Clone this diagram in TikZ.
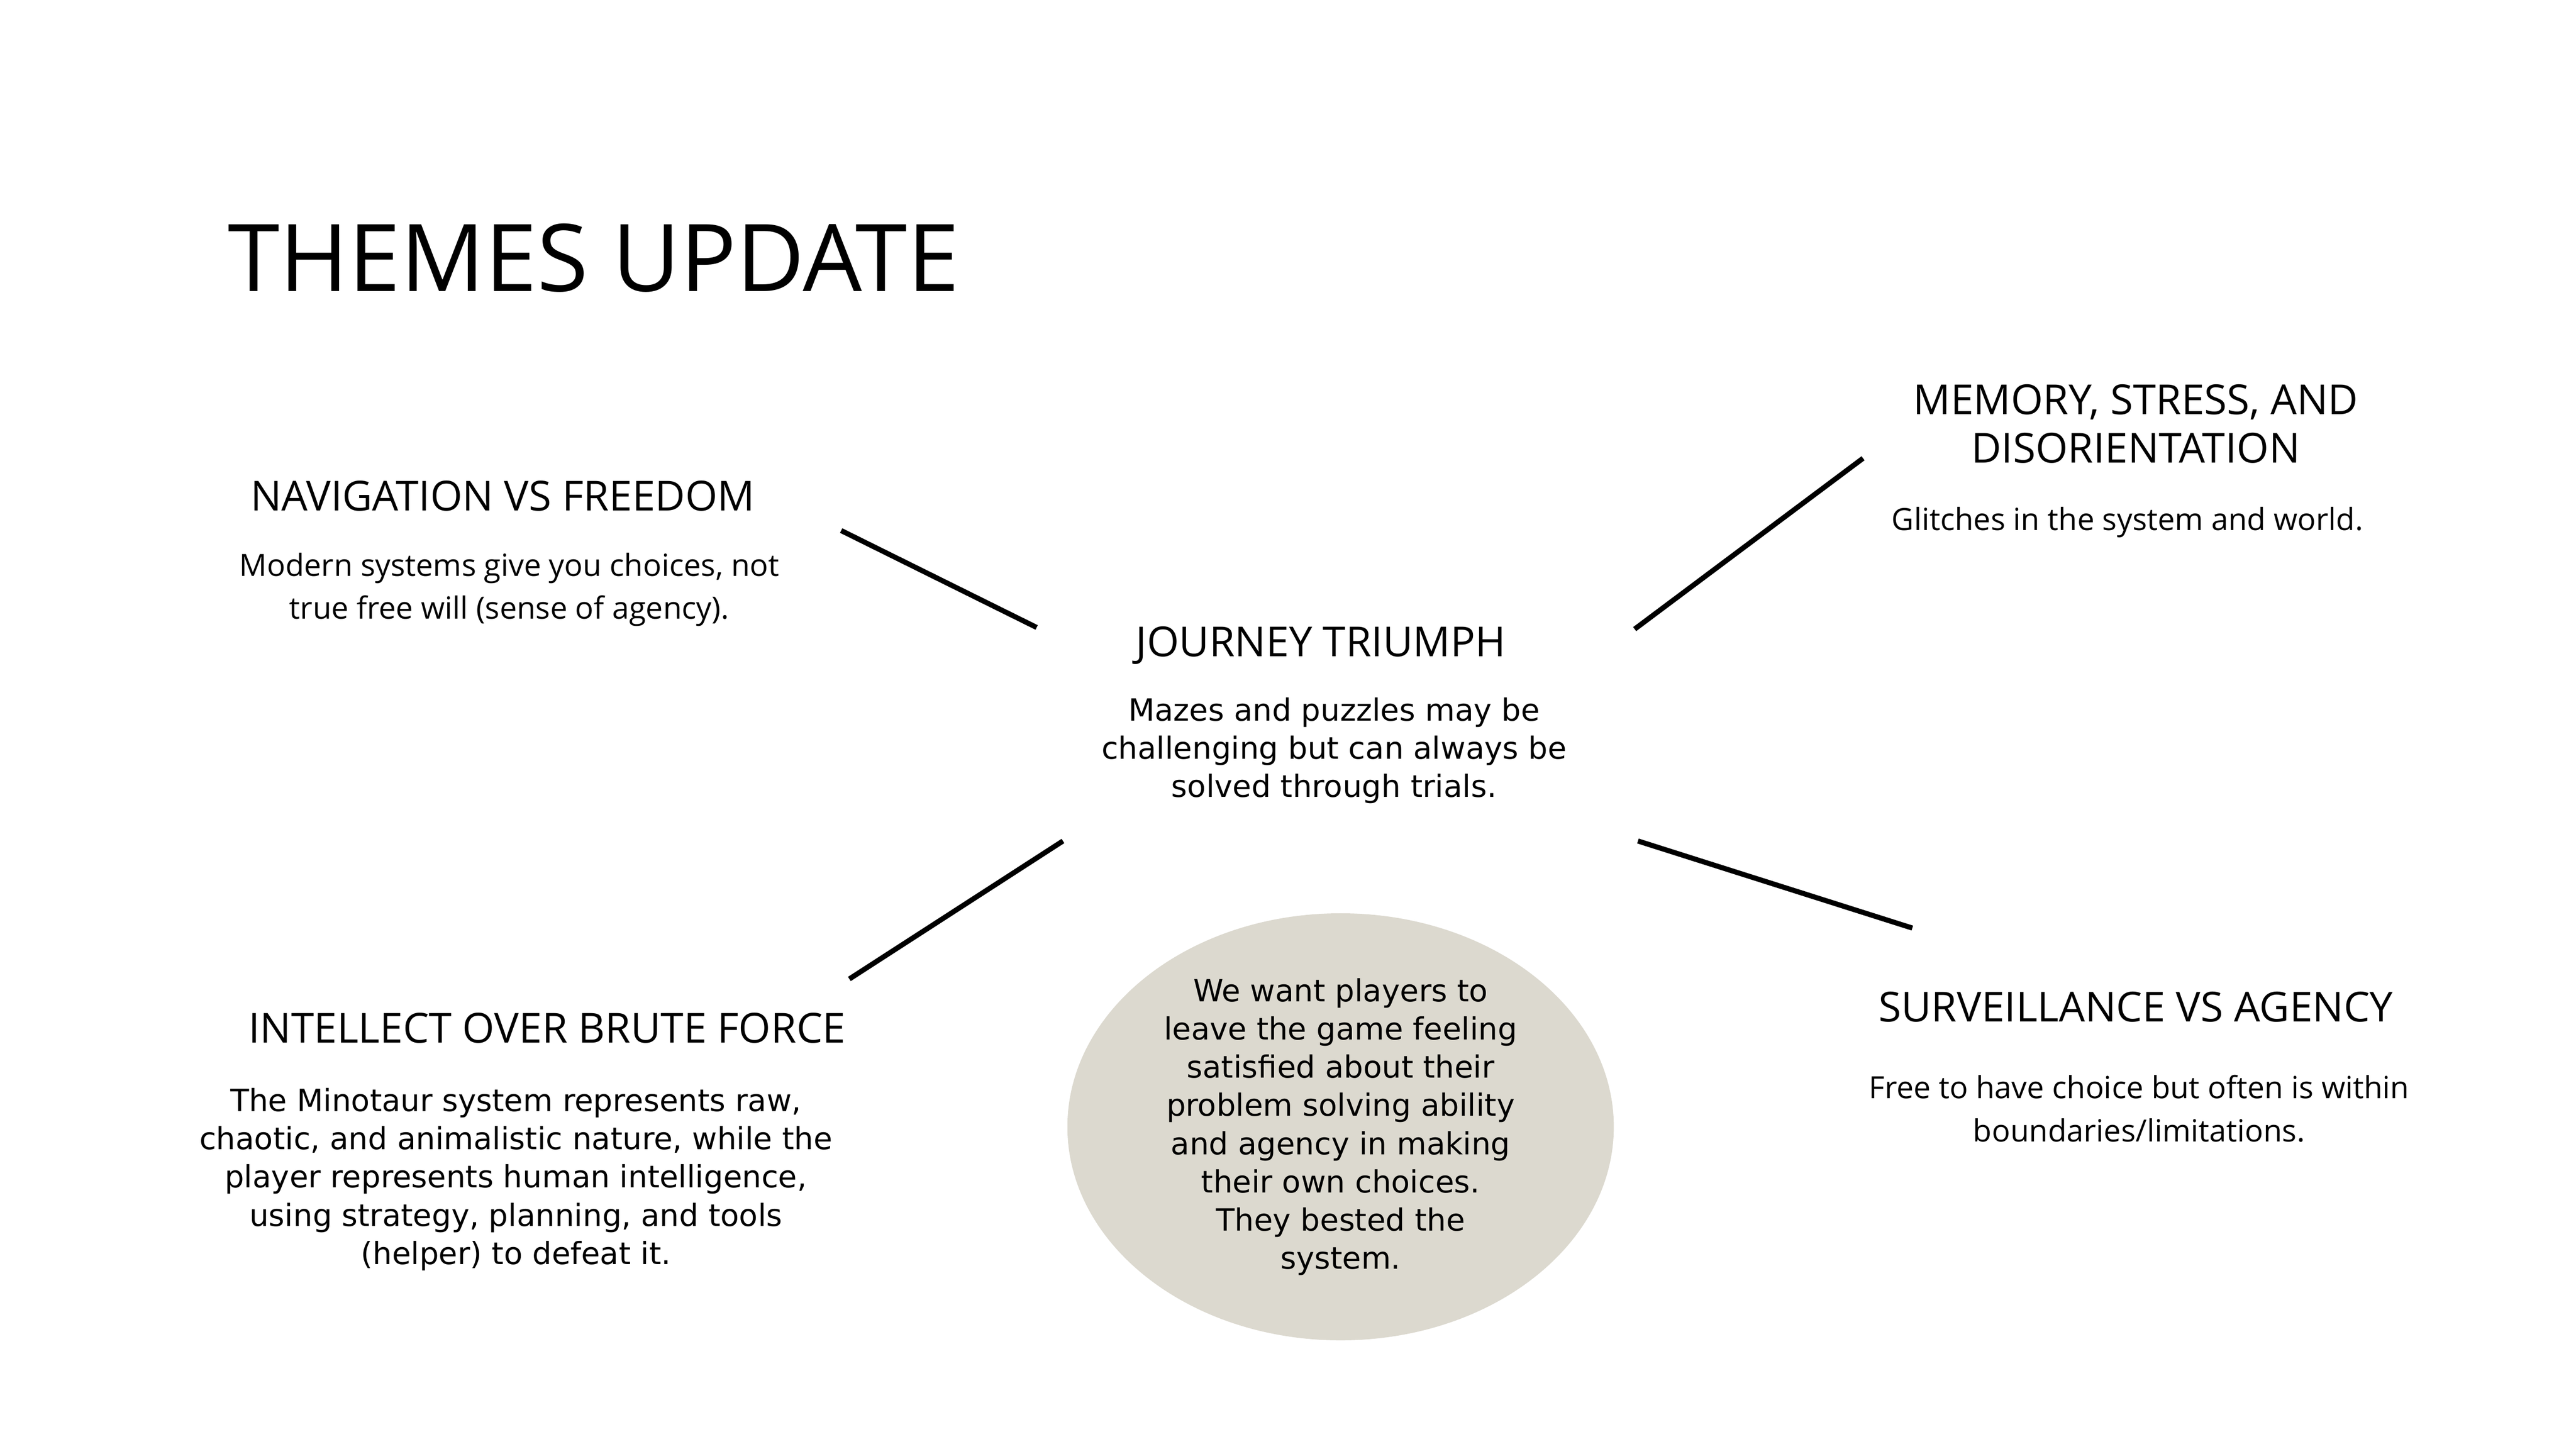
\documentclass[tikz,border=0pt]{standalone}
\usepackage{fontspec}
\setmainfont{Open Sans}
\newfontfamily\bodyfont{DejaVu Sans}
\usetikzlibrary{positioning,shapes.geometric}
\definecolor{pebble}{HTML}{DCD9CF}
\tikzset{
  heading/.style={align=center,font=\fontsize{7.3}{8.6}\selectfont,inner sep=0pt},
  body/.style={align=center,font=\bodyfont\fontsize{5.4}{6.75}\selectfont,inner sep=0pt},
  spoke/.style={line width=0.9pt,black}
}
\begin{document}
\begin{tikzpicture}[x=0.0102cm,y=-0.0102cm]
  \useasboundingbox (0,0) rectangle (1568,882);
  % title
  \node[anchor=west,inner sep=0pt,font=\fontsize{16.5}{18}\selectfont] (title) at (138,157) {THEMES UPDATE};
  % centre
  \node[heading] (jt) at (804,393) {JOURNEY TRIUMPH};
  \node[body] (jtb) at (812,457) {Mazes and puzzles may be\\challenging but can always be\\solved through trials.};
  % left top
  \node[heading] (nav) at (306,302) {NAVIGATION VS FREEDOM};
  \node[body,font=\fontsize{5.4}{7.6}\selectfont] (navb) at (310,359) {Modern systems give you choices, not\\true free will (sense of agency).};
  % right top
  \node[heading] (mem) at (1300,258) {MEMORY, STRESS, AND\\DISORIENTATION};
  \node[body,font=\fontsize{5.4}{7.6}\selectfont] (memb) at (1295,318) {Glitches in the system and world.};
  % left bottom
  \node[heading] (int) at (333,626) {INTELLECT OVER BRUTE FORCE};
  \node[body] (intb) at (314,718) {The Minotaur system represents raw,\\chaotic, and animalistic nature, while the\\player represents human intelligence,\\using strategy, planning, and tools\\(helper) to defeat it.};
  % right bottom
  \node[heading] (sur) at (1300,613) {SURVEILLANCE VS AGENCY};
  \node[body,font=\fontsize{5.4}{7.6}\selectfont] (surb) at (1302,675) {Free to have choice but often is within\\boundaries/limitations.};
  % goal bubble
  \node[ellipse,fill=pebble,minimum width=3.39cm,minimum height=2.65cm,inner sep=0pt] (goal) at (816,686) {};
  \node[body] (goalt) at (goal) {We want players to\\leave the game feeling\\satisfied about their\\problem solving ability\\and agency in making\\their own choices.\\They bested the\\system.};
  % spokes
  \coordinate (nw1) at (512,323); \coordinate (nw2) at (631,382);
  \coordinate (ne1) at (995,383); \coordinate (ne2) at (1134,279);
  \coordinate (sw1) at (517,596); \coordinate (sw2) at (647,512);
  \coordinate (se1) at (997,512); \coordinate (se2) at (1164,565);
  \draw[spoke] (nw1) -- (nw2);
  \draw[spoke] (ne1) -- (ne2);
  \draw[spoke] (sw1) -- (sw2);
  \draw[spoke] (se1) -- (se2);
\end{tikzpicture}
\end{document}
